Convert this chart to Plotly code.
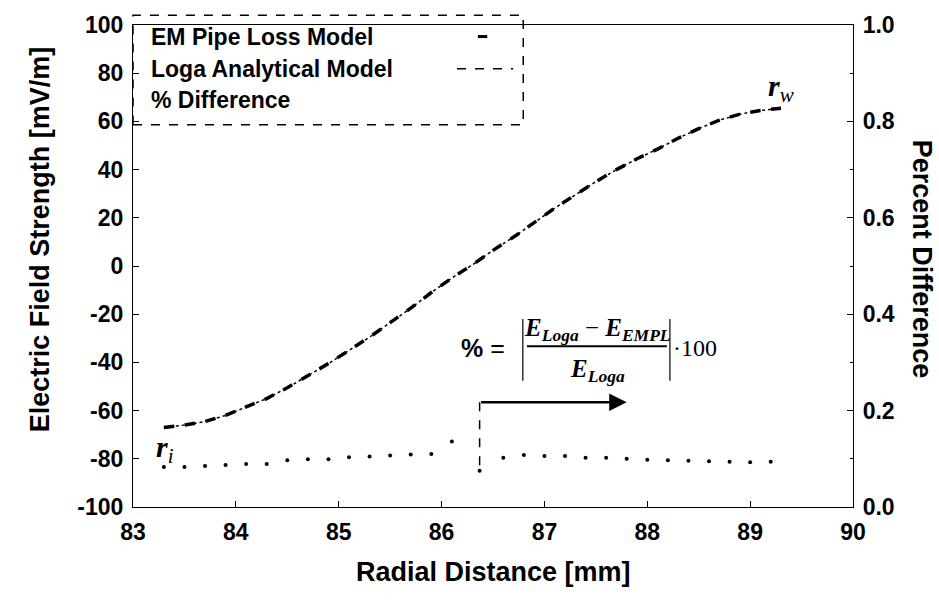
import plotly.graph_objects as go

# ---- data ----
radial_mm = [83.3, 83.5, 83.7, 83.9, 84.1, 84.3, 84.5, 84.7, 84.9, 85.1, 85.3,
             85.5, 85.7, 85.9, 86.1, 86.3, 86.5, 86.7, 86.9, 87.1, 87.3, 87.5,
             87.7, 87.9, 88.1, 88.3, 88.5, 88.7, 88.9, 89.1, 89.3]
em_pipe_loss = [-67, -66, -64.5, -62, -58.5, -55, -50.5, -45.5, -40.5, -35, -29.5,
                -23.5, -17.5, -11, -5, 0.5, 6.5, 12, 18, 24, 29.5, 35,
                40, 44.5, 48.5, 53, 57, 60.5, 63, 64.5, 65.5]
loga_analytical = [-67, -66, -64.5, -62, -58.5, -55, -50.5, -45.5, -40.5, -35, -29.5,
                   -23.5, -17.5, -11, -5, 0.5, 6.5, 12, 18, 24, 29.5, 35,
                   40, 44.5, 48.5, 53, 57, 60.5, 63, 64.5, 65.5]

pct_x = [83.3, 83.5, 83.7, 83.9, 84.1, 84.3, 84.5, 84.7, 84.9, 85.1, 85.3, 85.5,
         85.7, 85.9, 86.1, 86.37, 86.6, 86.8, 87.0, 87.2, 87.4, 87.6, 87.8, 88.0,
         88.2, 88.4, 88.6, 88.8, 89.0, 89.2]
pct_diff = [0.083, 0.083, 0.085, 0.087, 0.089, 0.089, 0.097, 0.099, 0.099, 0.103,
            0.105, 0.107, 0.109, 0.110, 0.136, 0.075, 0.102, 0.108, 0.106, 0.106,
            0.102, 0.102, 0.100, 0.098, 0.097, 0.096, 0.095, 0.094, 0.093, 0.094]

x_ticks = [83, 84, 85, 86, 87, 88, 89, 90]
y_ticks = [-100, -80, -60, -40, -20, 0, 20, 40, 60, 80, 100]
y_tick_text = ["-100", "-80", "-60", "-40", "-20", "0", "20", "40", "60", "80", "100"]
y2_ticks = [0.0, 0.2, 0.4, 0.6, 0.8, 1.0]
y2_tick_text = ["0.0", "0.2", "0.4", "0.6", "0.8", "1.0"]

SANS = "Liberation Sans, Arial, sans-serif"
SERIF = "Liberation Serif, Times New Roman, serif"

fig = go.Figure()
fig.add_trace(go.Scatter(x=radial_mm, y=loga_analytical, mode="lines",
                         name="Loga Analytical Model",
                         line=dict(color="black", width=1.5, dash="dot"),
                         showlegend=False))
fig.add_trace(go.Scatter(x=radial_mm, y=em_pipe_loss, mode="lines",
                         name="EM Pipe Loss Model",
                         line=dict(color="black", width=3.5, dash="dash"),
                         showlegend=False))
fig.add_trace(go.Scatter(x=pct_x, y=pct_diff, mode="markers", yaxis="y2",
                         name="% Difference",
                         marker=dict(color="black", size=4),
                         showlegend=False))

tick_font = dict(family=SANS, size=23, color="black", weight="bold")
axis_common = dict(showline=True, linecolor="black", linewidth=1.2,
                   ticks="inside", ticklen=6, tickcolor="black",
                   showgrid=False, zeroline=False, tickfont=tick_font,
                   ticklabeloverflow="allow", ticklabelstandoff=4)

fig.update_layout(
    width=939, height=602,
    margin=dict(l=133, r=86, t=15, b=95),
    paper_bgcolor="white", plot_bgcolor="white",
    showlegend=False,
    xaxis=dict(range=[83, 90], tickvals=x_ticks, mirror=True, **axis_common),
    yaxis=dict(range=[-100, 100], tickvals=y_ticks, ticktext=y_tick_text,
               **axis_common),
    yaxis2=dict(range=[0, 1], tickvals=y2_ticks, ticktext=y2_tick_text,
                overlaying="y", side="right",
                minor=dict(ticks="inside", dtick=0.1, ticklen=3, tickcolor="black"),
                **axis_common),
)

title_font = dict(family=SANS, size=27, color="black", weight="bold")
fig.add_annotation(xref="paper", yref="paper", x=0.5, y=-0.135,
                   xanchor="center", yanchor="middle",
                   text="Radial Distance [mm]", showarrow=False, font=title_font)
fig.add_annotation(xref="paper", yref="paper", x=-0.128, y=0.555,
                   xanchor="center", yanchor="middle",
                   text="Electric Field Strength [mV/m]", textangle=-90,
                   showarrow=False, font=title_font)
fig.add_annotation(xref="paper", yref="paper", x=1.096, y=0.515,
                   xanchor="center", yanchor="middle",
                   text="Percent Difference", textangle=90, showarrow=False,
                   font=title_font)

# ---- legend box (text left, symbol right) ----
fig.add_shape(type="rect", xref="paper", yref="paper", x0=0, x1=0.542,
              y0=0.793, y1=1.02, line=dict(color="black", width=1.5, dash="dash"))
legend_items = ["EM Pipe Loss Model", "Loga Analytical Model", "% Difference"]
legend_y = [0.976, 0.909, 0.844]
legend_font = dict(family=SANS, size=23, color="black", weight="bold")
for label, yy in zip(legend_items, legend_y):
    fig.add_annotation(xref="paper", yref="paper", x=0.022, y=yy,
                       xanchor="left", yanchor="middle",
                       text=label, showarrow=False, font=legend_font)
fig.add_shape(type="line", xref="paper", yref="paper", x0=0.479, x1=0.492,
              y0=0.976, y1=0.976, line=dict(color="black", width=3))
fig.add_shape(type="line", xref="paper", yref="paper", x0=0.45, x1=0.528,
              y0=0.909, y1=0.909, line=dict(color="black", width=1.5, dash="dash"))

# ---- endpoint labels ----
fig.add_annotation(x=83.31, y=-76, text="<i><b>r</b></i><sub><i>i</i></sub>",
                   showarrow=False, font=dict(family=SERIF, size=30, color="black"))
fig.add_annotation(x=89.3, y=74, text="<i><b>r</b></i><sub><i>w</i></sub>",
                   showarrow=False, font=dict(family=SERIF, size=30, color="black"))

# ---- formula ----
fig.add_annotation(x=86.40, y=-34.1, text="<b>%</b> =", showarrow=False,
                   font=dict(family=SANS, size=25, color="black"))
fig.add_annotation(x=87.52, y=-26.5,
                   text="<i><b>E</b></i><sub><i><b>Loga</b></i></sub> \u2212 <i><b>E</b></i><sub><i><b>EMPL</b></i></sub>",
                   showarrow=False, font=dict(family=SERIF, size=25, color="black"))
fig.add_annotation(x=87.52, y=-43.5, text="<i><b>E</b></i><sub><i><b>Loga</b></i></sub>",
                   showarrow=False, font=dict(family=SERIF, size=25, color="black"))
fig.add_annotation(x=88.46, y=-34.1, text="\u00b7100", showarrow=False,
                   font=dict(family=SERIF, size=24, color="black"))
fig.add_shape(type="line", x0=86.83, x1=88.19, y0=-33.3, y1=-33.3,
              line=dict(color="black", width=2))
fig.add_shape(type="line", x0=86.79, x1=86.79, y0=-22, y1=-47.6,
              line=dict(color="black", width=1.2))
fig.add_shape(type="line", x0=88.22, x1=88.22, y0=-22, y1=-47.6,
              line=dict(color="black", width=1.2))

# ---- arrow ----
fig.add_shape(type="line", x0=86.37, x1=86.37, y0=-56.5, y1=-85.5,
              line=dict(color="black", width=1.5, dash="dash"))
fig.add_annotation(x=87.8, y=-56.5, ax=86.37, ay=-56.5, axref="x", ayref="y",
                   text="", showarrow=True, arrowhead=2, arrowsize=1.4,
                   arrowwidth=2.5, arrowcolor="black")

fig.write_html("out.html")
